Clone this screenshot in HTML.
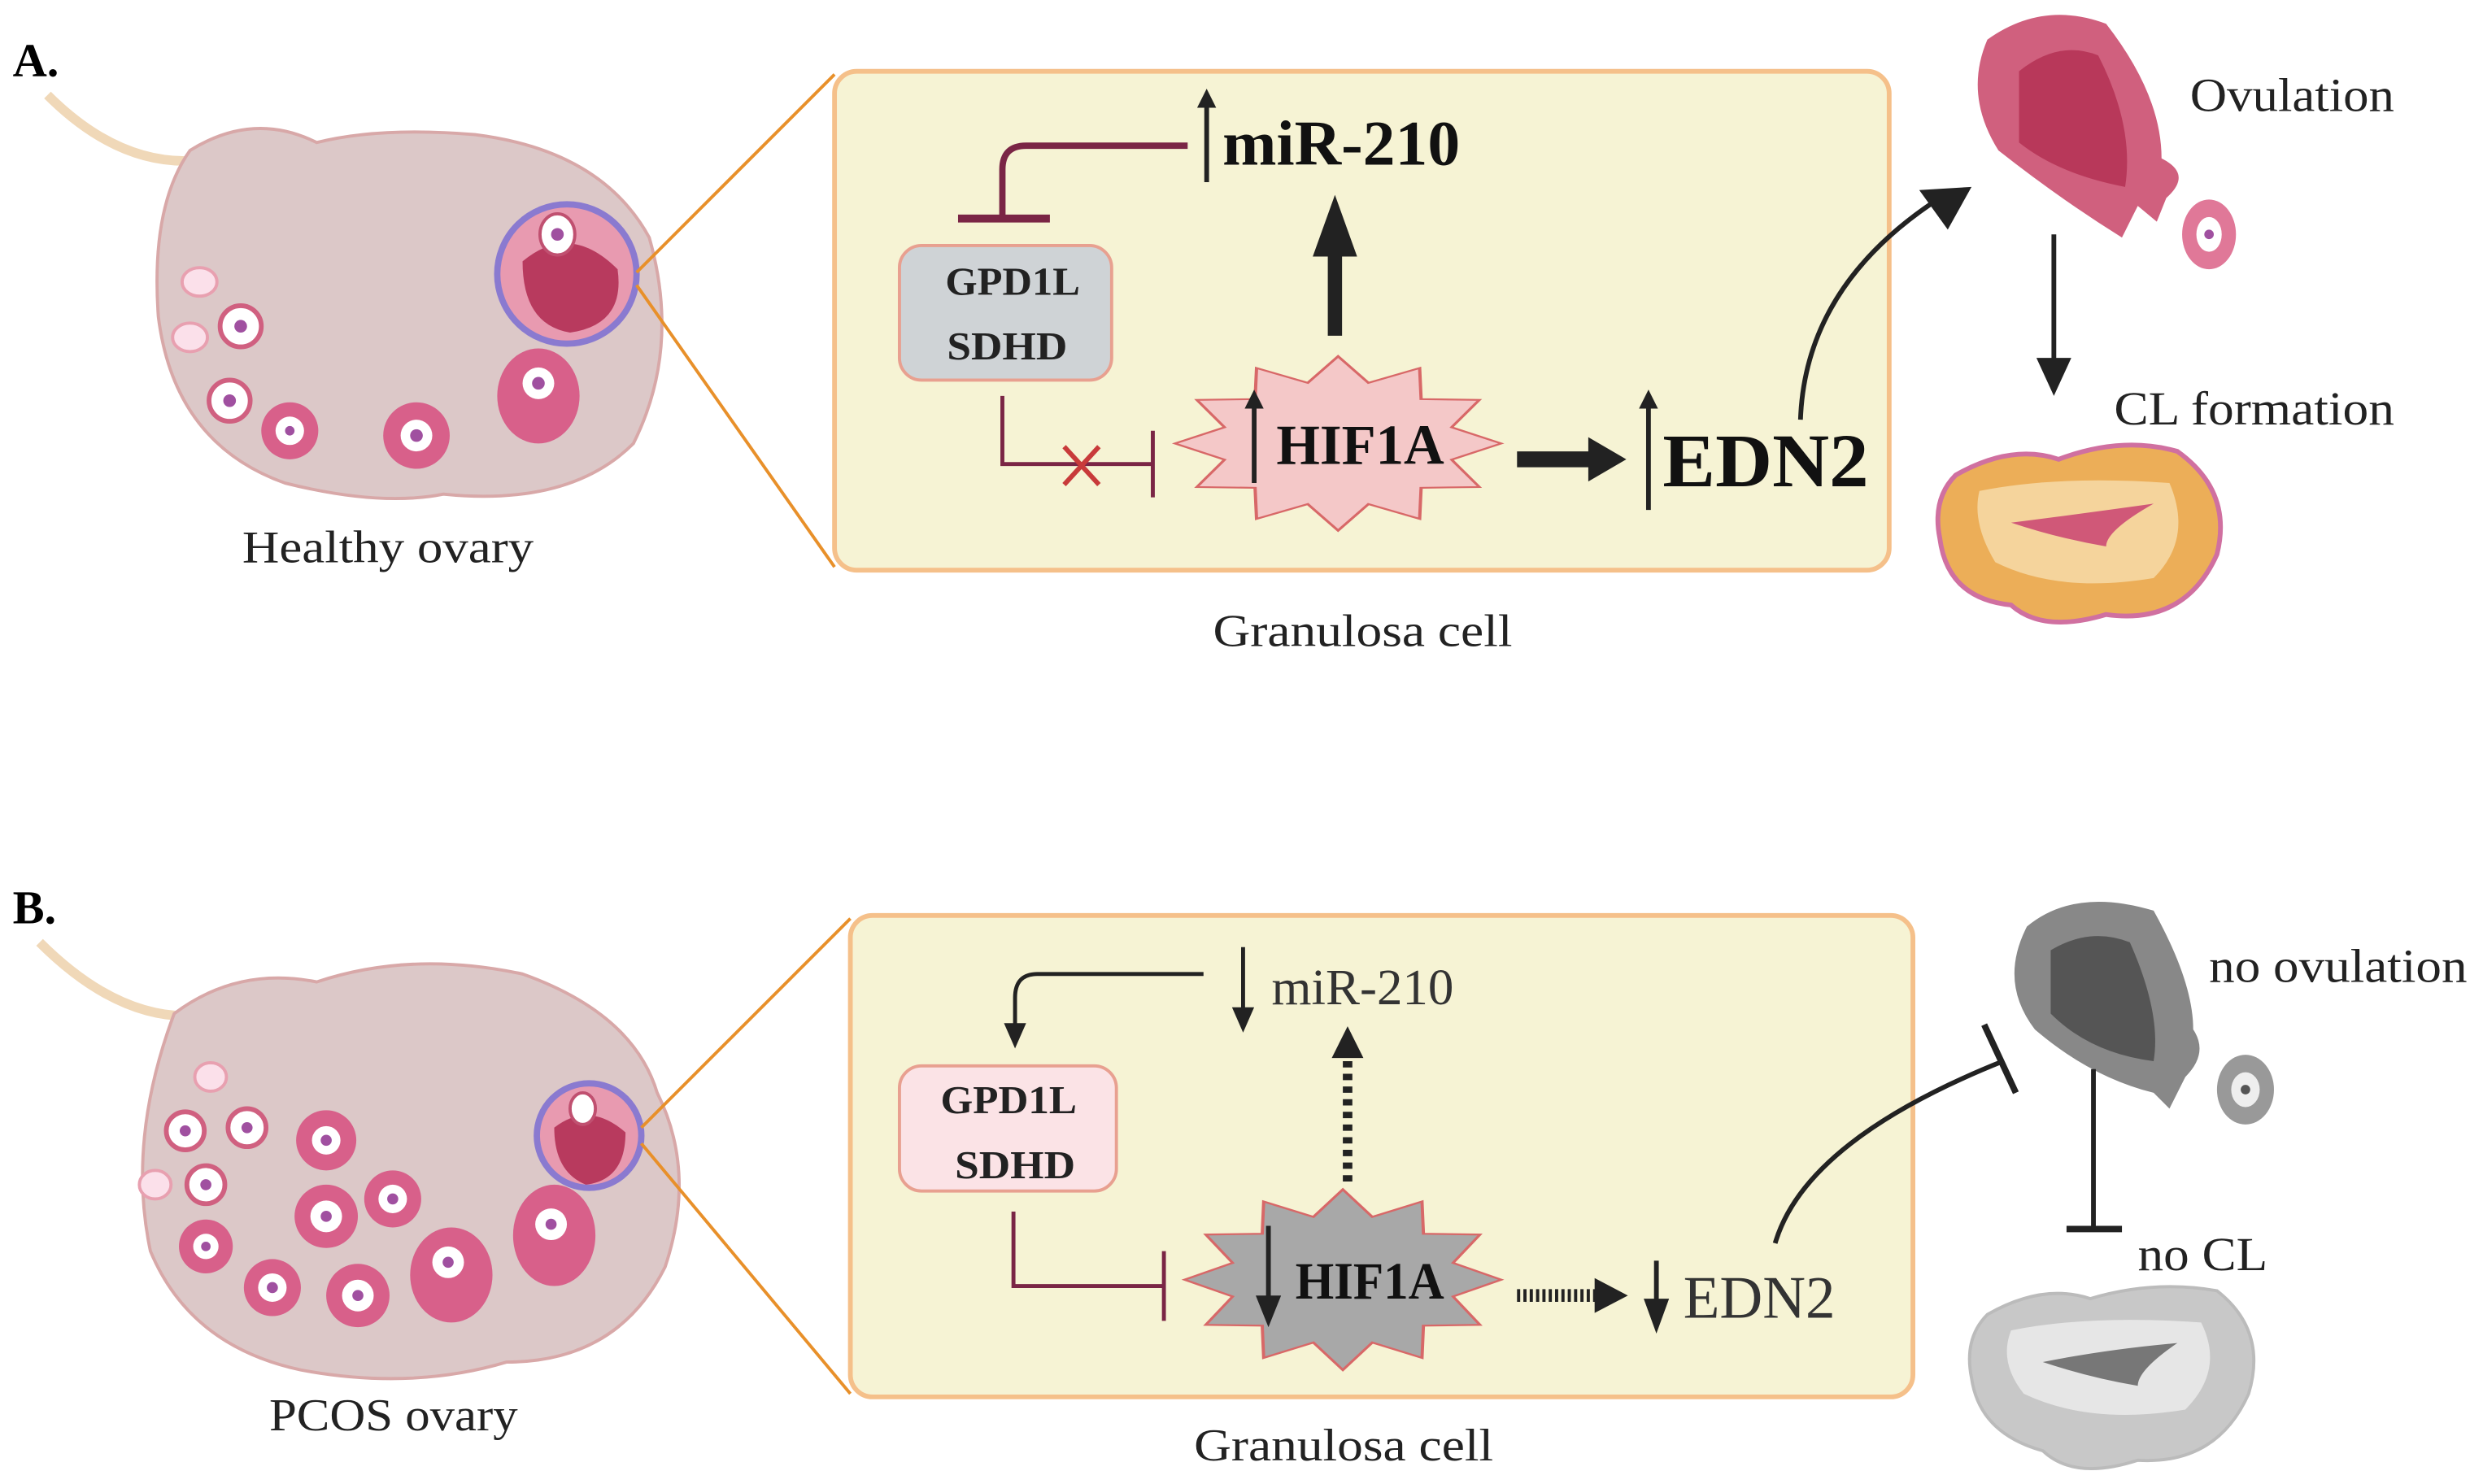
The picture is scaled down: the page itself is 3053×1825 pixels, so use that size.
<!DOCTYPE html>
<html><head><meta charset="utf-8"><style>
html,body{margin:0;padding:0;background:#fff;}
svg{display:block;}
text{font-family:"Liberation Serif",serif;}
</style></head><body>
<svg width="3053" height="1825" viewBox="0 0 1568 937" preserveAspectRatio="none" xmlns="http://www.w3.org/2000/svg">
<defs>
<marker id="ah" viewBox="0 0 10 10" refX="5" refY="5" markerWidth="4" markerHeight="4" orient="auto"><path d="M0,0L10,5L0,10z" fill="#222"/></marker>
<polygon id="star" points="1,0 .696,.186 .866,.5 .509,.509 .5,.866 .186,.696 0,1 -.186,.696 -.5,.866 -.509,.509 -.866,.5 -.696,.186 -1,0 -.696,-.186 -.866,-.5 -.509,-.509 -.5,-.866 -.186,-.696 0,-1 .186,-.696 .5,-.866 .509,-.509 .866,-.5 .696,-.186"/>
</defs>

<text x="8" y="48" font-size="30" font-weight="bold">A.</text>
<text x="8" y="583" font-size="30" font-weight="bold">B.</text>

<!-- ===== Panel A ===== -->
<path d="M30,60 Q80,110 135,100" stroke="#f0d8b8" stroke-width="6" fill="none"/>
<path d="M120,95 Q160,70 200,90 Q240,80 300,85 Q380,95 410,150 Q430,220 400,280 Q360,320 280,312 Q240,320 180,305 Q110,280 100,200 Q95,130 120,95z" fill="#dcc8c8" stroke="#d8a8a8" stroke-width="2"/>
<circle cx="358" cy="173" r="44" fill="#e89ab0" stroke="#8a7ad0" stroke-width="4"/>
<path d="M330,165 Q360,140 390,170 Q395,205 360,210 Q330,205 330,165z" fill="#b83a5e"/>
<ellipse cx="352" cy="148" rx="11" ry="13" fill="#fff" stroke="#c05070" stroke-width="2"/><circle cx="352" cy="148" r="4" fill="#a050a0"/>
<ellipse cx="126" cy="178" rx="11" ry="9" fill="#fbe0ea" stroke="#e8a0b0" stroke-width="2"/>
<ellipse cx="120" cy="213" rx="11" ry="9" fill="#fbe0ea" stroke="#e8a0b0" stroke-width="2"/>
<g fill="#fff" stroke="#d06080" stroke-width="3">
<circle cx="152" cy="206" r="13"/><circle cx="145" cy="253" r="13"/>
</g>
<g fill="#d8608a"><circle cx="183" cy="272" r="18"/><circle cx="263" cy="275" r="21"/><ellipse cx="340" cy="250" rx="26" ry="30"/></g>
<g fill="#fff"><circle cx="183" cy="272" r="9"/><circle cx="263" cy="275" r="10"/><circle cx="340" cy="242" r="10"/></g>
<g fill="#a050a0"><circle cx="152" cy="206" r="4"/><circle cx="145" cy="253" r="4"/><circle cx="183" cy="272" r="3"/><circle cx="263" cy="275" r="4"/><circle cx="340" cy="242" r="4"/></g>
<text x="153" y="355" font-size="29" textLength="184" lengthAdjust="spacingAndGlyphs" fill="#222">Healthy ovary</text>
<line x1="402" y1="172" x2="527" y2="47" stroke="#e8902a" stroke-width="2"/>
<line x1="402" y1="180" x2="527" y2="358" stroke="#e8902a" stroke-width="2"/>

<rect x="527" y="45" width="666" height="315" rx="14" fill="#f6f3d4" stroke="#f5c08a" stroke-width="3"/>
<rect x="568" y="155" width="134" height="85" rx="14" fill="#cfd3d6" stroke="#e8a090" stroke-width="2"/>
<text x="597" y="186" font-size="25" font-weight="bold" textLength="85" lengthAdjust="spacingAndGlyphs" fill="#222">GPD1L</text>
<text x="598" y="227" font-size="25" font-weight="bold" textLength="76" lengthAdjust="spacingAndGlyphs" fill="#222">SDHD</text>
<path d="M750,92 L648,92 Q633,92 633,107 L633,138" stroke="#7a2545" stroke-width="4" fill="none"/>
<line x1="605" y1="138" x2="663" y2="138" stroke="#7a2545" stroke-width="5"/>
<line x1="762" y1="115" x2="762" y2="62" stroke="#222" stroke-width="3" marker-end="url(#ah)"/>
<text x="772" y="104" font-size="40" font-weight="bold" textLength="150" lengthAdjust="spacingAndGlyphs" fill="#111">miR-210</text>
<line x1="843" y1="212" x2="843" y2="160" stroke="#222" stroke-width="9"/>
<polygon points="829,162 857,162 843,123" fill="#222"/>
<path d="M633,250 L633,293 L728,293" stroke="#7a2545" stroke-width="2.5" fill="none"/>
<line x1="728" y1="272" x2="728" y2="314" stroke="#7a2545" stroke-width="2.5"/>
<path d="M672,282 L694,306 M694,282 L672,306" stroke="#c83a3a" stroke-width="3"/>
<use href="#star" transform="translate(845,280) scale(103,55)" fill="#f4c8c8" stroke="#d86868" stroke-width="0.02"/>
<line x1="792" y1="305" x2="792" y2="252" stroke="#222" stroke-width="3" marker-end="url(#ah)"/>
<text x="806" y="293" font-size="36" font-weight="bold" textLength="106" lengthAdjust="spacingAndGlyphs" fill="#111">HIF1A</text>
<line x1="958" y1="290" x2="1005" y2="290" stroke="#222" stroke-width="10"/>
<polygon points="1003,276 1003,304 1027,290" fill="#222"/>
<line x1="1041" y1="322" x2="1041" y2="252" stroke="#222" stroke-width="3" marker-end="url(#ah)"/>
<text x="1050" y="307" font-size="48" font-weight="bold" textLength="130" lengthAdjust="spacingAndGlyphs" fill="#111">EDN2</text>
<path d="M1137,265 Q1140,180 1225,125" stroke="#222" stroke-width="3" fill="none"/>
<polygon points="1245,118 1212,120 1230,145" fill="#222"/>
<text x="766" y="408" font-size="29" textLength="189" lengthAdjust="spacingAndGlyphs" fill="#222">Granulosa cell</text>

<path d="M1255,25 Q1290,0 1330,15 Q1365,60 1365,100 Q1385,110 1368,125 L1362,140 L1350,130 L1340,150 Q1300,125 1262,95 Q1240,60 1255,25z" fill="#d0607e"/>
<path d="M1275,45 Q1300,25 1325,35 Q1348,80 1342,118 Q1300,110 1275,90z" fill="#b8385a"/>
<ellipse cx="1395" cy="148" rx="17" ry="22" fill="#e07898"/><ellipse cx="1395" cy="148" rx="8" ry="11" fill="#fff"/><circle cx="1395" cy="148" r="3" fill="#a050a0"/>
<text x="1383" y="70" font-size="30" textLength="129" lengthAdjust="spacingAndGlyphs" fill="#222">Ovulation</text>
<line x1="1297" y1="148" x2="1297" y2="232" stroke="#222" stroke-width="3"/>
<polygon points="1286,226 1308,226 1297,250" fill="#222"/>
<text x="1335" y="268" font-size="30" textLength="177" lengthAdjust="spacingAndGlyphs" fill="#222">CL formation</text>
<path d="M1235,300 Q1270,280 1300,290 Q1340,275 1375,285 Q1410,310 1400,350 Q1380,395 1330,388 Q1290,400 1270,382 Q1230,378 1225,340 Q1220,315 1235,300z" fill="#ecae58" stroke="#d070a0" stroke-width="3"/>
<path d="M1250,310 Q1300,300 1370,305 Q1385,340 1360,365 Q1300,375 1260,355 Q1245,330 1250,310z" fill="#f5d49c"/>
<path d="M1270,330 Q1310,325 1360,318 Q1330,335 1330,345 Q1300,340 1270,330z" fill="#d05878"/>

<!-- ===== Panel B ===== -->
<path d="M25,595 Q80,650 135,640" stroke="#f0d8b8" stroke-width="6" fill="none"/>
<path d="M110,640 Q150,610 200,620 Q260,600 330,615 Q400,640 415,690 Q440,740 420,800 Q390,860 320,860 Q260,878 190,865 Q120,850 95,790 Q80,720 110,640z" fill="#dcc8c8" stroke="#d8a8a8" stroke-width="2"/>
<circle cx="372" cy="717" r="33" fill="#e89ab0" stroke="#8a7ad0" stroke-width="4"/>
<path d="M350,712 Q372,695 395,715 Q395,745 370,748 Q350,740 350,712z" fill="#b83a5e"/>
<ellipse cx="368" cy="700" rx="8" ry="10" fill="#fff" stroke="#c05070" stroke-width="2"/>
<ellipse cx="133" cy="680" rx="10" ry="9" fill="#fbe0ea" stroke="#e8a0b0" stroke-width="2"/>
<ellipse cx="98" cy="748" rx="10" ry="9" fill="#fbe0ea" stroke="#e8a0b0" stroke-width="2"/>
<g fill="#fff" stroke="#d06080" stroke-width="3"><circle cx="117" cy="714" r="12"/><circle cx="156" cy="712" r="12"/><circle cx="130" cy="748" r="12"/></g>
<g fill="#d8608a">
<circle cx="206" cy="720" r="19"/><circle cx="248" cy="757" r="18"/><circle cx="206" cy="768" r="20"/><circle cx="130" cy="787" r="17"/><circle cx="172" cy="813" r="18"/><circle cx="226" cy="818" r="20"/><ellipse cx="285" cy="805" rx="26" ry="30"/><ellipse cx="350" cy="780" rx="26" ry="32"/>
</g>
<g fill="#fff"><circle cx="206" cy="720" r="9"/><circle cx="248" cy="757" r="9"/><circle cx="206" cy="768" r="10"/><circle cx="130" cy="787" r="8"/><circle cx="172" cy="813" r="9"/><circle cx="226" cy="818" r="10"/><circle cx="283" cy="797" r="10"/><circle cx="348" cy="773" r="10"/></g>
<g fill="#a050a0"><circle cx="117" cy="714" r="3.5"/><circle cx="156" cy="712" r="3.5"/><circle cx="130" cy="748" r="3.5"/><circle cx="206" cy="720" r="3.5"/><circle cx="248" cy="757" r="3.5"/><circle cx="206" cy="768" r="3.5"/><circle cx="130" cy="787" r="3"/><circle cx="172" cy="813" r="3.5"/><circle cx="226" cy="818" r="3.5"/><circle cx="283" cy="797" r="3.5"/><circle cx="348" cy="773" r="3.5"/></g>
<text x="170" y="903" font-size="29" textLength="157" lengthAdjust="spacingAndGlyphs" fill="#222">PCOS ovary</text>
<line x1="405" y1="712" x2="537" y2="580" stroke="#e8902a" stroke-width="2"/>
<line x1="405" y1="722" x2="537" y2="880" stroke="#e8902a" stroke-width="2"/>

<rect x="537" y="578" width="671" height="304" rx="14" fill="#f6f3d4" stroke="#f5c08a" stroke-width="3"/>
<rect x="568" y="673" width="137" height="79" rx="14" fill="#fbe3e6" stroke="#e8a090" stroke-width="2"/>
<text x="594" y="703" font-size="25" font-weight="bold" textLength="86" lengthAdjust="spacingAndGlyphs" fill="#222">GPD1L</text>
<text x="603" y="744" font-size="25" font-weight="bold" textLength="76" lengthAdjust="spacingAndGlyphs" fill="#222">SDHD</text>
<path d="M760,615 L655,615 Q641,615 641,630 L641,648" stroke="#222" stroke-width="2.5" fill="none"/>
<polygon points="634,646 648,646 641,662" fill="#222"/>
<line x1="785" y1="598" x2="785" y2="638" stroke="#222" stroke-width="2.5"/>
<polygon points="778,636 792,636 785,652" fill="#222"/>
<text x="803" y="634" font-size="32" textLength="115" lengthAdjust="spacingAndGlyphs" fill="#333">miR-210</text>
<line x1="851" y1="746" x2="851" y2="668" stroke="#222" stroke-width="6" stroke-dasharray="4,4"/>
<polygon points="841,668 861,668 851,648" fill="#222"/>
<path d="M640,765 L640,812 L735,812" stroke="#7a2545" stroke-width="2.5" fill="none"/>
<line x1="735" y1="790" x2="735" y2="834" stroke="#7a2545" stroke-width="2.5"/>
<use href="#star" transform="translate(848,808) scale(100,57)" fill="#a8a8a8" stroke="#d86868" stroke-width="0.02"/>
<line x1="801" y1="774" x2="801" y2="820" stroke="#222" stroke-width="3"/>
<polygon points="793,818 809,818 801,838" fill="#222"/>
<text x="818" y="820" font-size="33" font-weight="bold" textLength="94" lengthAdjust="spacingAndGlyphs" fill="#111">HIF1A</text>
<line x1="958" y1="818" x2="1008" y2="818" stroke="#222" stroke-width="8" stroke-dasharray="2,2"/>
<polygon points="1007,807 1007,829 1028,818" fill="#222"/>
<line x1="1046" y1="796" x2="1046" y2="822" stroke="#222" stroke-width="3"/>
<polygon points="1038,820 1054,820 1046,842" fill="#222"/>
<text x="1063" y="832" font-size="38" textLength="96" lengthAdjust="spacingAndGlyphs" fill="#333">EDN2</text>
<path d="M1121,785 Q1140,720 1265,670" stroke="#222" stroke-width="3" fill="none"/>
<line x1="1253" y1="647" x2="1273" y2="690" stroke="#222" stroke-width="4"/>
<text x="754" y="922" font-size="29" textLength="189" lengthAdjust="spacingAndGlyphs" fill="#222">Granulosa cell</text>

<path d="M1280,585 Q1310,560 1360,575 Q1385,620 1385,650 Q1395,665 1380,680 L1370,700 L1360,690 Q1320,680 1285,650 Q1262,620 1280,585z" fill="#888"/>
<path d="M1295,600 Q1320,585 1345,595 Q1365,640 1360,670 Q1320,665 1295,640z" fill="#555"/>
<ellipse cx="1418" cy="688" rx="18" ry="22" fill="#999"/><ellipse cx="1418" cy="688" rx="9" ry="11" fill="#eee"/><circle cx="1418" cy="688" r="3" fill="#555"/>
<text x="1395" y="620" font-size="30" textLength="163" lengthAdjust="spacingAndGlyphs" fill="#222">no ovulation</text>
<line x1="1322" y1="675" x2="1322" y2="775" stroke="#222" stroke-width="3"/>
<line x1="1305" y1="776" x2="1340" y2="776" stroke="#222" stroke-width="4"/>
<text x="1350" y="802" font-size="30" textLength="82" lengthAdjust="spacingAndGlyphs" fill="#222">no CL</text>
<path d="M1255,830 Q1290,810 1320,820 Q1360,808 1400,815 Q1432,840 1420,880 Q1400,925 1350,922 Q1310,935 1290,916 Q1250,905 1245,870 Q1240,845 1255,830z" fill="#c8c8c8" stroke="#bbb" stroke-width="2"/>
<path d="M1270,840 Q1320,830 1390,835 Q1405,865 1380,890 Q1320,900 1278,880 Q1262,860 1270,840z" fill="#e6e6e6"/>
<path d="M1290,860 Q1330,852 1375,848 Q1350,865 1350,875 Q1320,870 1290,860z" fill="#777"/>
</svg>
</body></html>
